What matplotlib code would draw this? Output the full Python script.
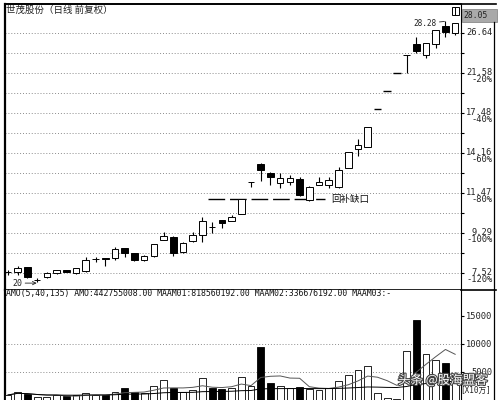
import numpy as np
import pandas as pd
import matplotlib
matplotlib.use("Agg")
import matplotlib.pyplot as plt
import matplotlib.patheffects as pe
from matplotlib.patches import Rectangle
from matplotlib.lines import Line2D
from matplotlib.ticker import NullLocator

plt.rcParams['font.family'] = ['Noto Sans CJK SC', 'DejaVu Sans']
MONO = 'DejaVu Sans Mono'
W, H = 500, 400

# daily bars
opens  = [7.55, 7.56, 7.76, 7.24, 7.36, 7.52, 7.64, 7.52, 7.62, 8.08,
          8.15, 8.14, 8.58, 8.36, 8.05, 8.22, 8.95, 9.09, 8.40, 8.90,
          9.19, 9.60, 9.94, 9.89, 10.26, 12.13, 13.35, 12.74, 12.08, 12.15,
          12.34, 11.05, 11.96, 11.96, 11.83, 13.08, 14.45, 14.60, 17.85, 19.64,
          21.60, 23.76, 25.13, 23.71, 25.13, 27.63, 26.63]
highs  = [7.64, 7.80, 7.78, 7.31, 7.56, 7.66, 7.66, 7.74, 8.18, 8.18,
          8.16, 8.62, 8.60, 8.38, 8.25, 8.78, 9.33, 9.12, 8.85, 9.33,
          10.10, 9.84, 9.96, 10.21, 11.13, 12.17, 13.40, 12.78, 12.74, 12.60,
          12.47, 11.87, 12.47, 12.47, 13.14, 14.26, 15.23, 16.25, 17.85, 19.64,
          21.60, 23.76, 26.11, 25.30, 27.10, 28.28, 28.10]
lows   = [7.44, 7.44, 7.32, 7.17, 7.32, 7.50, 7.55, 7.50, 7.58, 7.98,
          7.80, 8.05, 8.18, 8.02, 8.03, 8.20, 8.93, 8.22, 8.38, 8.88,
          8.85, 9.29, 9.53, 9.87, 10.24, 11.83, 12.21, 11.96, 11.77, 11.96,
          11.30, 10.99, 11.94, 11.77, 11.80, 13.05, 13.93, 14.58, 17.85, 19.64,
          21.60, 21.58, 24.00, 23.34, 24.60, 26.07, 26.35]
closes = [7.57, 7.72, 7.36, 7.26, 7.52, 7.64, 7.57, 7.72, 8.05, 8.10,
          8.12, 8.53, 8.36, 8.05, 8.22, 8.76, 9.14, 8.36, 8.81, 9.19,
          9.89, 9.58, 9.79, 10.10, 11.11, 12.15, 12.94, 12.47, 12.41, 12.41,
          11.34, 11.83, 12.15, 12.27, 12.94, 14.23, 14.76, 16.23, 17.85, 19.64,
          21.60, 23.76, 24.22, 25.26, 27.05, 26.77, 28.05]
# turnover (AMO), x10万
amount = [900, 1500, 1000, 540, 540, 840, 710, 840, 1200, 900,
          840, 1500, 2100, 1500, 1200, 2450, 3500, 2200, 1450, 1730,
          3870, 2200, 1900, 2200, 4100, 2500, 9460, 2980, 2500, 2200,
          2320, 1900, 1730, 2200, 3390, 4400, 5360, 6070, 1200, 300,
          200, 8750, 14400, 8300, 7140, 6660, 4428]

price_ticks = [7.52, 9.29, 11.47, 14.16, 17.48, 21.58, 26.64]
pct_labels = ['-120%', '-100%', '-80%', '-60%', '-40%', '-20%', '']
price_lim = (6.88, 31.0)
last_price = '28.05'
high_label = '28.28'
low_label = '20'
gap_level = 11.08
gap_from, gap_to = 20.6, 32.6
gap_text = '回补缺口'
title = '世茂股份（日线 前复权）'

vol_ticks = [5000, 10000, 15000]
vol_grid = [5000, 10000]
vol_top = 19700
header = 'AMO(5,40,135) AMO:442755008.00 MAAM01:818560192.00 MAAM02:336676192.00 MAAM03:-'
unit_text = '[X10万]'
watermark = '头条 @股海盟客'


def fpos(x, y):
    return x / W, 1 - y / H


fig = plt.figure(figsize=(5, 4), dpi=100)
fig.patch.set_facecolor('white')
ax = fig.add_axes([5 / W, 1 - 290 / H, 456 / W, 286 / H])
axv = fig.add_axes([5 / W, 0, 456 / W, 110 / H])

n = len(opens)
idx = np.arange(n)
o, c = np.array(opens), np.array(closes)
hi, lo = np.array(highs), np.array(lows)
up = c >= o
fill = np.where(up, 'white', 'black')
flat = hi == lo

# candles
ax.vlines(idx[~flat], lo[~flat], hi[~flat], color='black', lw=0.8, zorder=2)
ax.bar(idx[~flat], np.abs(c - o)[~flat], width=0.68, bottom=np.minimum(o, c)[~flat],
       color=fill[~flat], edgecolor='black', linewidth=0.7, zorder=3)
ax.hlines(c[flat], idx[flat] - 0.38, idx[flat] + 0.38, color='black', lw=1.0, zorder=3)

ax.set_yscale('log')
ax.set_ylim(*price_lim)
ax.set_xlim(-0.31, n - 0.4)
grid_vals = list(price_ticks)
for a, b in zip(price_ticks[:-1], price_ticks[1:]):
    grid_vals.append(np.sqrt(a * b))
ax.yaxis.set_minor_locator(NullLocator())
ax.set_yticks(sorted(grid_vals))
ax.set_xticks([])
ax.tick_params(axis='y', which='both', left=False, right=True, labelleft=False,
               labelright=False, direction='out', length=2.5, width=0.8)
for g in grid_vals:
    ax.axhline(g, color='#8c8c8c', lw=0.7, ls=(0, (1, 2)), zorder=1)

for p, pct in zip(price_ticks, pct_labels):
    ax.annotate(f'{p:.2f}', xy=(1, p), xycoords=('axes fraction', 'data'),
                xytext=(22.7, 0.5), textcoords='offset points', ha='right', va='center',
                fontsize=6.3, family=MONO, color='#222222')
    if pct:
        ax.annotate(pct, xy=(1, p), xycoords=('axes fraction', 'data'),
                    xytext=(22.7, -4.9), textcoords='offset points', ha='right', va='center',
                    fontsize=6.3, family=MONO, color='#222222')

# gap line
ax.plot([gap_from, gap_to], [gap_level, gap_level], color='black', lw=1.0,
        ls=(0, (12, 3.5)), zorder=2)
ax.text(gap_to + 0.7, gap_level, gap_text, fontsize=6.8, va='center', ha='left', color='#111111')

# extreme labels
ax.annotate(low_label, xy=(2.95, lows[3] * 0.995), xytext=(0.45, lows[3] * 0.995),
            fontsize=6, family=MONO, va='center', ha='left', color='#222222',
            arrowprops=dict(arrowstyle='->', lw=0.6, color='#222222', shrinkA=0, shrinkB=0))
imax = int(np.argmax(hi))
ax.annotate(high_label, xy=(imax - 0.1, hi[imax]), xytext=(imax - 0.9, hi[imax] * 0.99),
            fontsize=5.6, family=MONO, va='center', ha='right', color='#222222',
            arrowprops=dict(arrowstyle='-', lw=0.6, color='#222222', shrinkA=0, shrinkB=0))

for s in ax.spines.values():
    s.set_color('black')
ax.spines['left'].set_linewidth(1.6)
ax.spines['top'].set_linewidth(1.2)
ax.spines['right'].set_linewidth(0.8)
ax.spines['bottom'].set_linewidth(1.2)

# volume panel
axv.bar(idx, amount, width=0.7, color=fill, edgecolor='black', linewidth=0.6, zorder=3)
amt = pd.Series(amount, dtype=float)
axv.plot(idx, amt.rolling(5, min_periods=1).mean(), color='#555555', lw=0.7, zorder=4)
axv.plot(idx, amt.rolling(40, min_periods=1).mean(), color='black', lw=0.7, zorder=4)
axv.set_ylim(0, vol_top)
axv.set_xlim(ax.get_xlim())
axv.set_xticks([])
axv.set_yticks(vol_ticks)
axv.tick_params(axis='y', left=False, right=True, labelleft=False, labelright=False,
                direction='out', length=2.5, width=0.8)
for g in vol_grid:
    axv.axhline(g, color='#8c8c8c', lw=0.7, ls=(0, (1, 2)), zorder=1)
for v in vol_ticks:
    axv.annotate(str(v), xy=(1, v), xycoords=('axes fraction', 'data'),
                 xytext=(22.5, 0), textcoords='offset points', ha='right', va='center',
                 fontsize=6.3, family=MONO, color='#222222')
axv.spines['top'].set_visible(False)
axv.spines['bottom'].set_visible(False)
axv.spines['left'].set_linewidth(1.6)
axv.spines['right'].set_linewidth(0.8)

# frame pieces and texts in figure pixels
for (x0, y0), (x1, y1), lw in [((5, 4), (496, 4), 1.2), ((461, 290), (496, 290), 1.2),
                               ((494, 22), (494, 400), 0.9)]:
    a, b = fpos(x0, y0), fpos(x1, y1)
    fig.add_artist(Line2D([a[0], b[0]], [a[1], b[1]], color='black', lw=lw))

fig.text(*fpos(6, 10.5), title, fontsize=6.8, va='center', ha='left', color='#222222')
fig.text(*fpos(6, 293.5), header, fontsize=5.9, family=MONO, va='center', ha='left',
         color='#111111')

bx, by = fpos(461.5, 22)
fig.add_artist(Rectangle((bx, by), 35.5 / W, 13 / H, transform=fig.transFigure,
                         facecolor='#a9a9a9', edgecolor='#8a8a8a', lw=0.6))
fig.text(*fpos(463, 15), last_price, fontsize=5.8, family=MONO, va='center', ha='left',
         color='#222222')
ix, iy = fpos(451.5, 14.5)
fig.add_artist(Rectangle((ix, iy), 7 / W, 7.5 / H, transform=fig.transFigure,
                         facecolor='white', edgecolor='black', lw=0.7))
a, b = fpos(455, 7), fpos(455, 14.5)
fig.add_artist(Line2D([a[0], b[0]], [a[1], b[1]], color='black', lw=0.7))

fig.text(*fpos(460, 390), unit_text, fontsize=5.5, family=[MONO, 'Noto Sans CJK SC'],
         va='center', ha='left', color='#222222')
fig.text(*fpos(398, 380), watermark, fontsize=9, va='center', ha='left', color='white',
         path_effects=[pe.withStroke(linewidth=1.6, foreground='#444444')])

fig.savefig('out.png', dpi=100)
